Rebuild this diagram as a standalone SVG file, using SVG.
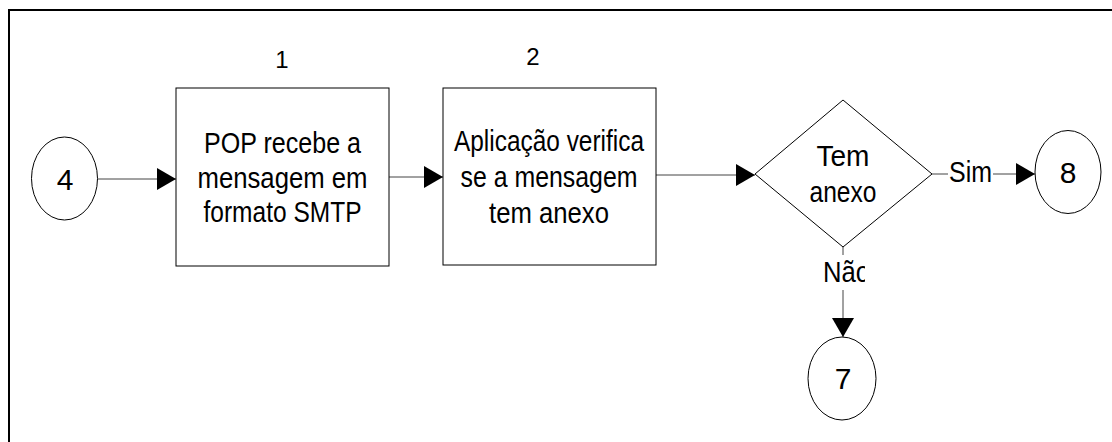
<svg xmlns="http://www.w3.org/2000/svg" width="1112" height="442" viewBox="0 0 1112 442">
<style>
  text { font-family: "Liberation Sans", Arial, sans-serif; fill: #000; }
  .t { font-size: 29px; text-anchor: middle; }
  .num { font-size: 24px; text-anchor: middle; }
  .dig { font-size: 30px; text-anchor: middle; }
  .shape { fill: #fff; stroke: #000; stroke-width: 1; }
  .conn { fill: none; stroke: #444; stroke-width: 1; }
</style>
<defs>
  <marker id="arrow" markerUnits="userSpaceOnUse" markerWidth="19" markerHeight="22" refX="19" refY="11" orient="auto">
    <path d="M0,0 L19,11 L0,22 z" fill="#000"/>
  </marker>
  <clipPath id="naoClip"><rect x="815" y="255" width="50" height="35"/></clipPath>
</defs>
<rect width="1112" height="442" fill="#fff"/>
<path d="M9,442 V10 H1112" fill="none" stroke="#000" stroke-width="2"/>

<g id="connectors">
  <path class="conn" d="M97.5,179 H176" marker-end="url(#arrow)"/>
  <path class="conn" d="M389,177 H443" marker-end="url(#arrow)"/>
  <path class="conn" d="M656,175 H755" marker-end="url(#arrow)"/>
  <path class="conn" d="M932,174 H948"/>
  <path class="conn" d="M993,174 H1035" marker-end="url(#arrow)"/>
  <text x="970.5" y="182" font-size="29" text-anchor="middle" textLength="43" lengthAdjust="spacingAndGlyphs">Sim</text>
  <path class="conn" d="M843,247 V255"/>
  <path class="conn" d="M843,290 V337" marker-end="url(#arrow)"/>
  <text x="823" y="282" font-size="29" textLength="47" lengthAdjust="spacingAndGlyphs" clip-path="url(#naoClip)">Não</text>
</g>

<g id="node-4">
  <ellipse class="shape" cx="64.5" cy="178.5" rx="33" ry="41.5"/>
  <text class="dig" x="65" y="190">4</text>
</g>

<g id="node-1">
  <text class="num" x="282" y="68">1</text>
  <rect class="shape" x="176" y="88" width="213" height="178"/>
  <text class="t" x="282.5" y="153" textLength="157" lengthAdjust="spacingAndGlyphs">POP recebe a</text>
  <text class="t" x="282.5" y="188" textLength="170" lengthAdjust="spacingAndGlyphs">mensagem em</text>
  <text class="t" x="282.5" y="222" textLength="158" lengthAdjust="spacingAndGlyphs">formato SMTP</text>
</g>

<g id="node-2">
  <text class="num" x="533" y="65">2</text>
  <rect class="shape" x="443" y="88" width="213" height="177"/>
  <text class="t" x="549" y="151" textLength="190" lengthAdjust="spacingAndGlyphs">Aplicação verifica</text>
  <text class="t" x="549" y="187" textLength="177" lengthAdjust="spacingAndGlyphs">se a mensagem</text>
  <text class="t" x="549" y="223" textLength="120" lengthAdjust="spacingAndGlyphs">tem anexo</text>
</g>

<g id="decision">
  <polygon class="shape" points="755,174 843,100 932,174 843,247"/>
  <text class="t" x="843" y="166" textLength="53" lengthAdjust="spacingAndGlyphs">Tem</text>
  <text class="t" x="843" y="202" textLength="67" lengthAdjust="spacingAndGlyphs">anexo</text>
</g>

<g id="node-8">
  <ellipse class="shape" cx="1068" cy="172" rx="33" ry="41.5"/>
  <text class="dig" x="1068" y="183">8</text>
</g>

<g id="node-7">
  <ellipse class="shape" cx="842" cy="378.5" rx="34" ry="41.5"/>
  <text class="dig" x="843" y="389">7</text>
</g>
</svg>
